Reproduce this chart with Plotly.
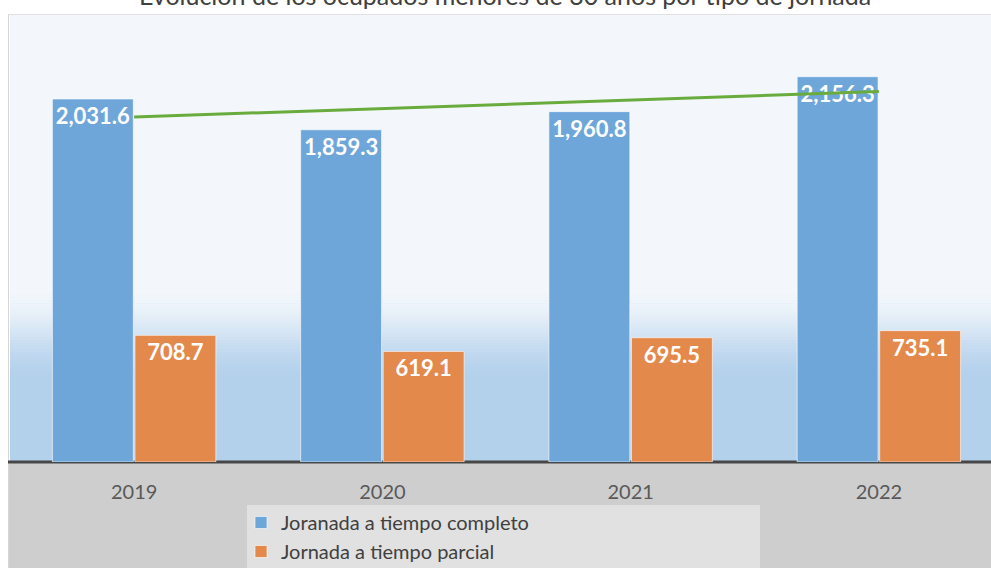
import numpy as np
import plotly.graph_objects as go

years = ["2019", "2020", "2021", "2022"]
completo = [2031.6, 1859.3, 1960.8, 2156.3]
parcial = [708.7, 619.1, 695.5, 735.1]
name_completo = "Joranada a tiempo completo"
name_parcial = "Jornada a tiempo parcial"
title = "Evolución de los ocupados menores de 30 años por tipo de jornada"

# linear trend of full-time series
xi = np.arange(len(years))
slope, intercept = np.polyfit(xi, completo, 1)
trend = [slope * x + intercept for x in xi]

W, H = 991, 568
ml, mr, mt, mb = 10, 0, 14, 106
ph = H - mt - mb  # 448
axis_py = 462
px_per_unit = (462 - 99) / 2031.6
ymax = ph / px_per_unit


def py2paper(py):
    return (axis_py - py) / ph


def px2paper(px):
    return (px - ml) / (W - ml - mr)


def lerp(c1, c2, t):
    return tuple(int(round(a + (b - a) * t)) for a, b in zip(c1, c2))


shapes = []
top_c = (243, 247, 251)
bot_c = (180, 209, 236)
shapes.append(dict(type="rect", xref="paper", yref="paper", x0=0, x1=1,
                   y0=py2paper(290), y1=1, fillcolor="rgb(243,247,251)",
                   line=dict(width=0), layer="below"))
n = 30
y_a, y_b = 288, 380
for i in range(n):
    p0 = y_a + (y_b - y_a) * i / n
    p1 = y_a + (y_b - y_a) * (i + 1) / n
    t = (i + 0.5) / n
    t = t * t * (3 - 2 * t)
    c = lerp(top_c, bot_c, t)
    shapes.append(dict(type="rect", xref="paper", yref="paper", x0=0, x1=1,
                       y0=py2paper(p1 + 0.5), y1=py2paper(p0), fillcolor="rgb(%d,%d,%d)" % c,
                       line=dict(width=0), layer="below"))
# floor
shapes.append(dict(type="rect", xref="paper", yref="paper", x0=px2paper(8), x1=1,
                   y0=py2paper(572), y1=py2paper(axis_py), fillcolor="#cecece",
                   line=dict(width=0), layer="below"))
# legend box
shapes.append(dict(type="rect", xref="paper", yref="paper", x0=px2paper(247), x1=px2paper(760),
                   y0=py2paper(572), y1=py2paper(505), fillcolor="#e1e1e1",
                   line=dict(width=0), layer="below"))
# border
shapes.append(dict(type="line", xref="paper", yref="paper", x0=px2paper(8.5), x1=px2paper(8.5),
                   y0=py2paper(572), y1=py2paper(14), line=dict(color="#d6d6d6", width=1), layer="below"))
shapes.append(dict(type="line", xref="paper", yref="paper", x0=px2paper(8.5), x1=1.01,
                   y0=py2paper(14.5), y1=py2paper(14.5), line=dict(color="#e0e0e0", width=1), layer="below"))
# axis line (drawn below bars)
shapes.append(dict(type="line", xref="paper", yref="paper", x0=px2paper(8), x1=1.01,
                   y0=py2paper(462), y1=py2paper(462), line=dict(color="#474747", width=3), layer="below"))

fig = go.Figure()
fig.add_trace(go.Bar(
    x=years, y=completo, name=name_completo,
    marker=dict(color="#6ea6da", line=dict(color="rgba(255,255,255,0.6)", width=1)),
    text=[f"{v:,.1f}" for v in completo], textposition="inside", insidetextanchor="end",
    constraintext="none", textangle=0,
    textfont=dict(family="Lato", size=22, color="white", weight="bold"),
    hoverinfo="skip",
))
fig.add_trace(go.Bar(
    x=years, y=parcial, name=name_parcial,
    marker=dict(color="#e4894c", line=dict(color="rgba(255,255,255,0.6)", width=1)),
    text=[f"{v:,.1f}" for v in parcial], textposition="inside", insidetextanchor="end",
    constraintext="none", textangle=0,
    textfont=dict(family="Lato", size=22, color="white", weight="bold"),
    hoverinfo="skip",
))
fig.add_trace(go.Scatter(
    x=years, y=trend, mode="lines", showlegend=False,
    line=dict(color="#6aab3e", width=3), hoverinfo="skip",
))

fig.update_layout(
    width=W, height=H,
    margin=dict(l=ml, r=mr, t=mt, b=mb, autoexpand=False),
    paper_bgcolor="white",
    plot_bgcolor="rgb(180,209,236)",
    barmode="group", bargap=0.335, bargroupgap=0.02,
    shapes=shapes,
    showlegend=True,
    legend=dict(
        x=px2paper(241), y=py2paper(503), xanchor="left", yanchor="top",
        orientation="v", bgcolor="rgba(0,0,0,0)",
        font=dict(family="Lato", size=20, color="#404040"),
        traceorder="normal",
    ),
    xaxis=dict(
        type="category", range=[-0.5, 3 + (991 - 879) / 248],
        showgrid=False, zeroline=False, showline=False,
        ticks="outside", ticklen=12, tickcolor="rgba(0,0,0,0)",
        tickfont=dict(family="Lato", size=20, color="#595959"),
    ),
    yaxis=dict(
        range=[0, ymax], showgrid=False, zeroline=False, showline=False,
        showticklabels=False, ticks="",
    ),
    annotations=[dict(
        text=title, xref="paper", yref="paper",
        x=px2paper(505), y=py2paper(12), xanchor="center", yanchor="bottom",
        showarrow=False, font=dict(family="Lato", size=25, color="#404040"),
    )],
)

fig.write_html("out.html", config={"displayModeBar": False},
               post_script="document.body.style.margin='0px';")
